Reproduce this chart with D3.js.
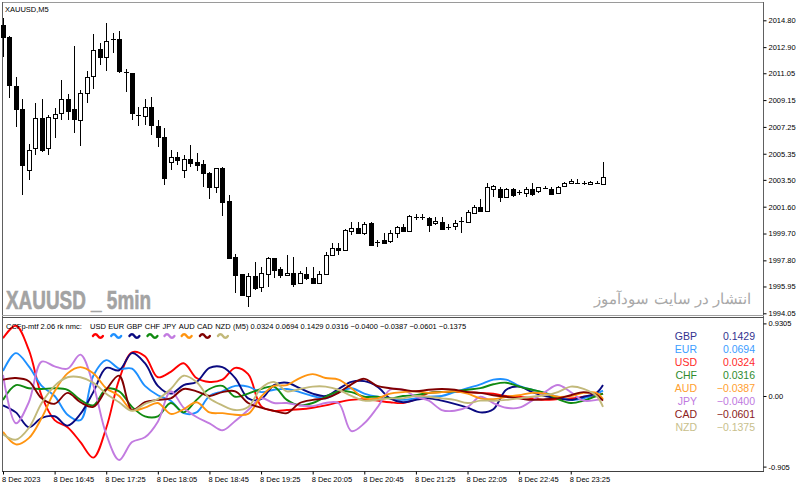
<!DOCTYPE html>
<html><head><meta charset="utf-8">
<script src="https://cdn.jsdelivr.net/npm/d3@7"></script>
<style>
html,body{margin:0;padding:0;background:#fff;}
svg{display:block;}
text{font-family:"Liberation Sans",Arial,sans-serif;}
</style></head><body>
<svg id="chart" width="800" height="488"></svg>
<script>
// ---------------- DATA ----------------
const symbolLabel = "XAUUSD,M5";
const watermark = "XAUUSD _ 5min";
const watermarkFa = "انتشار در سایت سودآموز";

// 5-minute candles, 8 Dec 2023 16:05 .. 23:50
const open = [2014.47,2013.62,2010.14,2008.51,2004.19,2005.75,2007.87,2005.75,2007.87,2008.23,
2009.22,2008.51,2007.73,2009.65,2010.85,2012.77,2012.20,2013.47,2013.47,2011.14,
2011.06,2008.09,2008.02,2008.65,2007.31,2006.53,2004.75,2005.11,2004.19,2004.97,
2004.75,2004.61,2003.97,2002.98,2004.33,2001.99,1998.02,1996.81,1995.25,1996.67,
1995.89,1996.81,1997.95,1997.17,1996.74,1996.88,1996.18,1996.81,1996.53,1996.18,
1996.81,1998.16,1998.66,1998.51,1999.86,2000.07,1999.72,2000.43,1999.08,1999.22,
1999.15,1999.72,2000.15,1999.86,2000.86,2000.86,2000.78,2000.43,2000.50,2000.15,
2000.22,2000.57,2000.50,2001.14,2001.56,2001.28,2002.84,2002.84,2002.27,2002.84,
2002.63,2002.56,2002.84,2002.70,2002.91,2002.84,2002.56,2003.05,2003.27,2003.34,
2003.27,2003.19,2003.27,2003.19];
const high = [2014.96,2013.70,2010.78,2009.22,2006.03,2008.94,2009.22,2008.09,2008.58,2010.57,
2009.57,2012.98,2009.86,2011.21,2013.83,2013.19,2014.61,2013.90,2014.04,2011.35,
2011.10,2008.65,2009.22,2009.36,2007.73,2007.16,2005.61,2005.46,2005.25,2005.96,
2005.39,2004.90,2004.05,2004.33,2004.40,2002.41,1998.23,1996.85,1996.88,1997.66,
1997.31,1998.02,1997.98,1997.31,1998.16,1998.02,1997.03,1997.31,1997.31,1997.03,
1998.37,1999.01,1999.01,2000.00,2000.50,2000.50,2000.50,2000.50,1999.22,1999.72,
1999.93,2000.22,2000.36,2000.99,2001.07,2001.07,2000.86,2000.86,2000.86,2000.36,
2000.64,2000.86,2001.35,2001.70,2002.13,2003.27,2003.12,2002.98,2002.91,2002.91,
2002.77,2002.98,2003.27,2002.98,2003.05,2002.98,2003.05,2003.34,2003.55,2003.55,
2003.41,2003.41,2003.41,2004.75];
const low = [2012.20,2009.29,2007.24,2002.41,2003.48,2005.25,2005.46,2005.25,2006.46,2007.73,
2007.73,2006.81,2005.89,2008.94,2009.93,2011.63,2011.21,2012.48,2011.06,2009.72,
2007.73,2007.31,2007.38,2006.67,2005.82,2003.12,2004.19,2004.54,2003.62,2004.40,
2004.12,2002.98,2002.13,2002.56,2000.93,1997.95,1995.47,1995.32,1994.47,1995.68,
1995.54,1995.89,1996.53,1996.53,1996.67,1995.89,1996.10,1996.39,1996.10,1996.10,
1996.81,1998.16,1998.16,1998.51,1999.58,1999.65,1999.58,1998.80,1998.73,1998.94,
1999.01,1999.37,1999.79,1999.86,2000.64,2000.64,1999.79,2000.29,1999.93,1999.93,
1999.93,1999.72,2000.43,2001.14,2001.21,2001.28,2002.27,2001.92,2002.20,2002.27,
2002.41,2002.27,2002.34,2002.56,2002.84,2002.41,2002.56,2002.98,2003.19,2003.19,
2003.12,2003.12,2003.19,2003.19];
const close = [2013.62,2010.21,2008.51,2004.54,2005.61,2007.87,2005.61,2007.94,2008.16,2009.22,
2008.37,2007.80,2009.65,2010.78,2012.69,2012.20,2013.33,2013.47,2011.21,2011.14,
2008.23,2008.09,2008.65,2007.38,2006.53,2003.62,2005.11,2004.90,2004.97,2004.68,
2004.54,2003.97,2002.98,2004.33,2001.92,1997.95,1996.74,1995.32,1996.67,1995.82,
1996.88,1997.95,1997.10,1996.74,1996.88,1996.10,1996.88,1996.53,1996.18,1996.81,
1998.16,1998.66,1998.51,1999.93,2000.07,1999.72,2000.36,1998.87,1999.08,1999.01,
1999.72,2000.15,1999.86,2000.92,2000.86,2000.86,2000.29,2000.57,2000.00,2000.15,
2000.43,2000.57,2001.21,2001.56,2001.28,2002.98,2003.05,2002.27,2002.84,2002.41,
2002.63,2002.84,2002.49,2002.98,2002.91,2002.49,2002.98,2003.27,2003.41,2003.27,
2003.27,2003.34,2003.27,2003.69];

const priceTicks = [2014.80,2012.90,2011.05,2009.15,2007.25,2005.35,2003.50,2001.60,1999.70,1997.80,1995.95,1994.05];
const timeTickBars = [0,8,16,24,32,40,48,56,64,72,80,88];
const timeTickLabels = ["8 Dec 2023","8 Dec 16:45","8 Dec 17:25","8 Dec 18:05","8 Dec 18:45","8 Dec 19:25","8 Dec 20:05","8 Dec 20:45","8 Dec 21:25","8 Dec 22:05","8 Dec 22:45","8 Dec 23:25"];

// CCFp indicator (sampled every second bar, plus last bar)
const indBars = d3.range(0, 93, 2).concat([93]);
const currencies = ["USD","EUR","GBP","CHF","JPY","AUD","CAD","NZD"];
const seriesColors = ["#ff0000","#1e90ff","#0a0a80","#108a10","#c27be0","#ff9410","#800000","#c2b97a"];
const legendColors = ["#ff2a2a","#3d9dff","#33338f","#2e8b2e","#c07ae0","#ffa030","#8b2020","#c8c08c"];
const USD = [0.74,0.90,0.59,0.00,-0.31,-0.40,-0.59,-0.79,-0.41,0.21,0.56,0.51,0.24,0.31,0.42,0.23,0.18,0.21,0.36,0.28,-0.13,-0.19,-0.18,-0.17,-0.15,-0.12,-0.08,-0.05,-0.04,-0.06,-0.08,-0.09,-0.04,0.04,0.05,0.05,0.05,0.04,0.03,0.00,-0.01,-0.03,-0.05,-0.04,-0.03,-0.01,0.01,0.03];
const EUR = [0.32,0.55,0.38,0.13,0.00,-0.24,-0.31,0.26,0.46,0.35,0.35,0.13,0.01,-0.06,-0.22,-0.21,0.00,0.06,0.13,0.12,0.05,0.08,0.09,0.05,0.00,-0.03,0.05,0.10,0.03,-0.01,-0.03,-0.05,-0.03,-0.01,0.00,0.05,0.10,0.15,0.21,0.21,0.13,0.08,0.04,-0.01,-0.05,-0.03,0.03,0.07];
const GBP = [-0.12,-0.21,-0.40,-0.28,-0.26,-0.38,-0.23,0.05,0.36,0.33,0.55,0.42,0.13,0.03,0.14,0.18,0.36,0.37,0.23,-0.03,-0.04,0.14,0.17,0.10,0.03,0.00,0.09,0.18,0.19,0.12,-0.03,-0.08,-0.05,-0.03,-0.06,-0.10,-0.15,-0.21,-0.17,0.08,0.12,0.05,0.00,-0.03,-0.05,-0.01,0.04,0.14];
const CHF = [-0.05,0.14,0.10,0.09,0.10,0.08,-0.05,-0.12,0.09,0.06,-0.14,-0.26,-0.26,-0.09,-0.21,-0.05,0.09,0.13,-0.01,0.03,0.09,0.12,-0.05,-0.12,-0.09,-0.01,0.06,0.05,-0.01,-0.01,-0.03,0.00,0.01,0.04,0.05,0.06,0.08,0.10,0.15,0.17,0.12,0.08,0.04,-0.04,-0.09,-0.06,0.00,0.03];
const JPY = [0.27,-0.35,-0.08,0.44,0.38,0.35,0.53,0.14,-0.49,-0.82,-0.59,-0.53,-0.33,0.06,-0.15,-0.27,-0.35,-0.44,-0.32,-0.18,-0.03,-0.09,-0.09,-0.12,-0.13,-0.09,-0.09,-0.45,-0.35,-0.15,0.08,0.08,-0.01,-0.06,-0.18,-0.19,-0.14,-0.01,-0.09,-0.15,-0.15,-0.06,0.05,0.14,0.05,-0.06,-0.05,-0.04];
const AUD = [-0.46,-0.62,-0.54,-0.28,0.06,0.29,0.37,0.29,0.10,0.00,-0.18,-0.15,-0.09,-0.23,-0.17,-0.08,-0.21,-0.22,-0.24,-0.23,-0.01,0.13,0.14,0.23,0.28,0.23,0.21,0.10,-0.03,-0.03,0.03,0.05,0.06,0.04,0.05,0.06,0.03,-0.03,-0.04,-0.01,0.01,0.04,0.03,-0.01,0.00,0.04,0.04,-0.04];
const CAD = [0.21,0.23,0.19,-0.03,-0.10,0.04,-0.08,-0.14,0.08,0.26,-0.18,-0.08,-0.05,-0.03,0.09,0.06,0.00,0.05,0.06,-0.09,-0.15,-0.19,-0.22,-0.09,-0.05,-0.03,0.04,0.15,0.22,0.13,0.10,0.08,0.06,0.08,0.09,0.08,0.05,0.04,0.01,-0.01,-0.03,-0.05,-0.04,-0.03,0.01,0.05,0.01,-0.06];
const NZD = [-0.49,-0.56,-0.41,-0.09,0.13,0.24,0.24,0.17,0.03,-0.08,-0.19,-0.10,-0.04,0.09,0.26,0.18,-0.03,-0.12,-0.18,-0.14,0.10,0.18,0.06,0.09,0.12,0.12,0.08,0.00,-0.06,-0.05,-0.03,-0.03,0.00,-0.01,-0.03,-0.05,-0.09,-0.06,-0.06,-0.05,-0.03,-0.01,0.01,0.05,0.12,0.09,0.00,-0.14];
const currentValues = [0.0324,0.0694,0.1429,0.0316,-0.0400,-0.0387,-0.0601,-0.1375];
const indTicks = [0.9305, 0, -0.905];
const indTickLabels = ["0.9305","0.00","-0.905"];
const indHeader = "CCFp-mtf 2.06 rk nmc:";
const indTimeframe = "(M5)";

// ---------------- CHART ----------------
const svg = d3.select("#chart");
svg.append("rect").attr("width",800).attr("height",488).attr("fill","#fff");

const x = d3.scaleLinear().domain([0,93]).range([3,603]);
const yP = d3.scaleLinear().domain([1994.05,2014.80]).range([313.3,20.3]);
const yI = d3.scaleLinear().domain([-0.905,0.9305]).range([466.6,323.4]);

const FS = 7.5;

// frames
const frame = svg.append("g").attr("shape-rendering","crispEdges");
frame.append("line").attr("x1",2).attr("x2",764).attr("y1",2.5).attr("y2",2.5).attr("stroke","#9a9a9a");
frame.append("line").attr("x1",2.5).attr("x2",2.5).attr("y1",2).attr("y2",472).attr("stroke","#606060");
frame.append("line").attr("x1",763.5).attr("x2",763.5).attr("y1",2).attr("y2",472).attr("stroke","#606060");
frame.append("line").attr("x1",2).attr("x2",764).attr("y1",315.5).attr("y2",315.5).attr("stroke","#a0a0a0");
frame.append("line").attr("x1",2).attr("x2",764).attr("y1",317.5).attr("y2",317.5).attr("stroke","#505050");
frame.append("line").attr("x1",2).attr("x2",764).attr("y1",471.5).attr("y2",471.5).attr("stroke","#404040");

// watermarks
svg.append("text").attr("x",6).attr("y",309).attr("font-family","'Liberation Sans Narrow','Liberation Sans',sans-serif")
  .attr("font-weight","bold").attr("font-size",25).attr("fill","#a3a3a3")
  .attr("stroke","#a3a3a3").attr("stroke-width",0.6)
  .attr("textLength",145).attr("lengthAdjust","spacingAndGlyphs").text(watermark);
svg.append("text").attr("x",751).attr("y",304).attr("text-anchor","end")
  .attr("font-family","'DejaVu Sans',sans-serif").attr("font-size",15).attr("fill","#a8a8a8").text(watermarkFa);

svg.append("text").attr("x",5).attr("y",12).attr("font-size",FS).attr("fill","#000").text(symbolLabel);

// candles
const candles = d3.range(open.length).map(i => ({i, o:open[i], h:high[i], l:low[i], c:close[i]}));
const cg = svg.append("g").attr("shape-rendering","crispEdges");
cg.selectAll("line.wick").data(candles).join("line").attr("class","wick")
  .attr("x1",d=>Math.round(x(d.i))+0.5).attr("x2",d=>Math.round(x(d.i))+0.5)
  .attr("y1",d=>yP(d.h)).attr("y2",d=>yP(d.l)).attr("stroke","#000");
cg.selectAll("rect.body").data(candles.filter(d=>Math.abs(yP(d.o)-yP(d.c))>=1)).join("rect").attr("class","body")
  .attr("x",d=>Math.round(x(d.i))-1.5).attr("width",4)
  .attr("y",d=>Math.round(Math.min(yP(d.o),yP(d.c)))+0.5)
  .attr("height",d=>Math.max(1,Math.round(Math.abs(yP(d.o)-yP(d.c)))))
  .attr("fill",d=>d.c>d.o?"#fff":"#000").attr("stroke","#000");
cg.selectAll("line.doji").data(candles.filter(d=>Math.abs(yP(d.o)-yP(d.c))<1)).join("line").attr("class","doji")
  .attr("x1",d=>Math.round(x(d.i))-2).attr("x2",d=>Math.round(x(d.i))+3)
  .attr("y1",d=>Math.round(yP(d.c))+0.5).attr("y2",d=>Math.round(yP(d.c))+0.5).attr("stroke","#000");

// price axis
const pa = svg.append("g").attr("transform","translate(763.5,0)")
  .call(d3.axisRight(yP).tickValues(priceTicks).tickSize(3).tickPadding(2).tickFormat(d3.format(".2f")));
pa.select(".domain").remove();
pa.selectAll("text").attr("font-size",FS).attr("font-family","'Liberation Sans',Arial,sans-serif").attr("fill","#000");
pa.selectAll("line").attr("stroke","#000");

// indicator axis
const ia = svg.append("g").attr("transform","translate(763.5,0)")
  .call(d3.axisRight(yI).tickValues(indTicks).tickSize(3).tickPadding(2).tickFormat((d,i)=>indTickLabels[i]));
ia.select(".domain").remove();
ia.selectAll("text").attr("font-size",FS).attr("font-family","'Liberation Sans',Arial,sans-serif").attr("fill","#000");
ia.selectAll("line").attr("stroke","#000");

// time axis
const ta = svg.append("g").attr("transform","translate(0,471.5)")
  .call(d3.axisBottom(x).tickValues(timeTickBars).tickSize(3).tickPadding(2).tickFormat((d,i)=>timeTickLabels[i]));
ta.select(".domain").remove();
ta.selectAll("text").attr("font-size",FS).attr("font-family","'Liberation Sans',Arial,sans-serif").attr("fill","#000")
  .attr("text-anchor","start").attr("dx",-1.5);
ta.selectAll("line").attr("stroke","#000");

// indicator lines
svg.append("clipPath").attr("id","indclip").append("rect").attr("x",3).attr("y",318).attr("width",760).attr("height",153);
const seriesData = [USD,EUR,GBP,CHF,JPY,AUD,CAD,NZD];
const line = d3.line().x((d,i)=>x(indBars[i])).y(d=>yI(d)).curve(d3.curveCatmullRom.alpha(0.5));
svg.append("g").attr("clip-path","url(#indclip)").selectAll("path").data(seriesData).join("path")
  .attr("d",line).attr("fill","none").attr("stroke",(d,i)=>seriesColors[i]).attr("stroke-width",1.9)
  .attr("stroke-linejoin","round");

// indicator header
const hg = svg.append("g").attr("font-size",FS).attr("fill","#000");
hg.append("text").attr("x",6).attr("y",328.5).text(indHeader);
let hx = 90;
currencies.forEach((c,i)=>{
  const t = hg.append("text").attr("x",hx).attr("y",328.5).text(c);
  const w = t.node().getComputedTextLength();
  const cx = hx + w/2;
  svg.append("path").attr("d",`M${cx-5},336 q2.5,-3.5 5,0 t5,0`).attr("fill","none")
    .attr("stroke",seriesColors[i]).attr("stroke-width",2.3).attr("stroke-linecap","round");
  hx += w + 2.4;
});
hg.append("text").attr("x",hx).attr("y",328.5)
  .text(indTimeframe + " " + currentValues.map(d3.format(".4f")).join(" "));

// right legend sorted by value
const order = d3.range(currencies.length).sort((a,b)=>currentValues[b]-currentValues[a]);
const lg = svg.append("g");
order.forEach((ci,k)=>{
  const yy = 340 + k*13;
  lg.append("text").attr("x",697).attr("y",yy).attr("text-anchor","end")
    .attr("font-family","'Liberation Sans Narrow','Liberation Sans',sans-serif").attr("font-size",10.5)
    .attr("fill",legendColors[ci]).text(currencies[ci]);
  lg.append("text").attr("x",755).attr("y",yy).attr("text-anchor","end")
    .attr("font-family","'DejaVu Sans Mono',monospace").attr("font-size",10.5)
    .attr("fill",legendColors[ci]).text(d3.format(".4f")(currentValues[ci]));
});
</script>
</body></html>
